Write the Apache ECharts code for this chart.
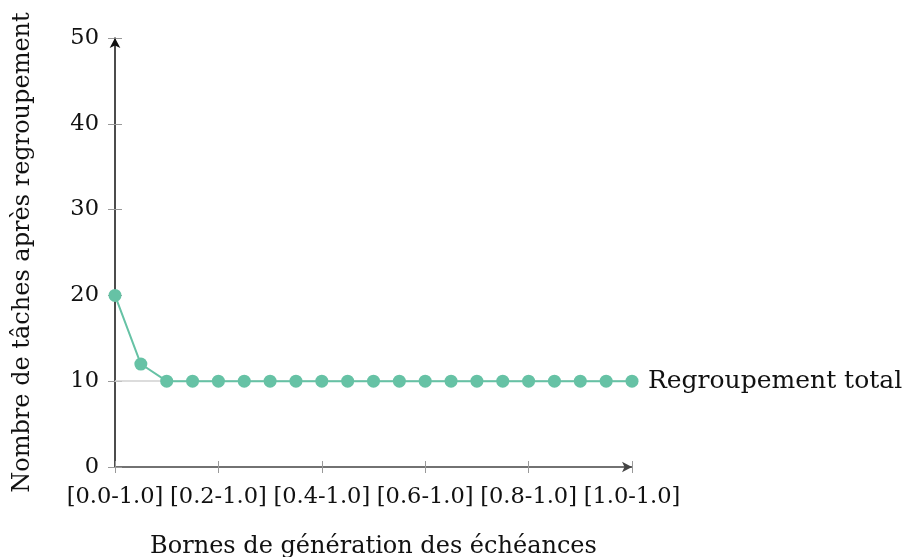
<!DOCTYPE html>
<html>
<head>
<meta charset="utf-8">
<script src="https://cdn.jsdelivr.net/npm/echarts@6/dist/echarts.min.js"></script>
<style>html,body{margin:0;padding:0;background:#fff;overflow:hidden}#c{width:904px;height:557px}</style>
</head>
<body>
<div id="c"></div>
<script>
const categories = ["[0.0-1.0]","[0.05-1.0]","[0.1-1.0]","[0.15-1.0]","[0.2-1.0]","[0.25-1.0]","[0.3-1.0]","[0.35-1.0]","[0.4-1.0]","[0.45-1.0]","[0.5-1.0]","[0.55-1.0]","[0.6-1.0]","[0.65-1.0]","[0.7-1.0]","[0.75-1.0]","[0.8-1.0]","[0.85-1.0]","[0.9-1.0]","[0.95-1.0]","[1.0-1.0]"];
const regroupementTotal = [20,12,10,10,10,10,10,10,10,10,10,10,10,10,10,10,10,10,10,10,10];
const yTicks = [0,10,20,30,40,50];
const refLine = 10;

const FONT = 'DejaVu Serif';
const chart = echarts.init(document.getElementById('c'), null, {width: 904, height: 557});
const baseX = {
  type: 'category', data: categories, boundaryGap: false
};
chart.setOption({
  animation: false,
  grid: {left: 115, width: 517, top: 38, height: 429, containLabel: false, outerBoundsMode: 'none'},
  xAxis: [
    Object.assign({}, baseX, {
      name: 'Bornes de génération des échéances',
      nameLocation: 'middle', nameGap: 68,
      nameTextStyle: {fontFamily: FONT, fontSize: 24, color: '#111'},
      axisLine: {show: true, lineStyle: {color: '#444', width: 1.5}, symbol: ['none','arrow'], symbolSize: [8, 10]},
      axisTick: {show: true, interval: 3, length: 6, lineStyle: {color: '#999'}},
      axisLabel: {interval: 3, fontFamily: FONT, fontSize: 22.5, color: '#111', margin: 19},
      splitLine: {show: false}
    }),
    Object.assign({}, baseX, {
      position: 'bottom',
      axisLine: {show: false},
      axisTick: {show: true, inside: true, interval: 3, length: 6, lineStyle: {color: '#999'}},
      axisLabel: {show: false},
      splitLine: {show: false}
    })
  ],
  yAxis: [
    {
      type: 'value', min: yTicks[0], max: yTicks[yTicks.length-1], interval: 10,
      name: 'Nombre de tâches après regroupement',
      nameLocation: 'middle', nameGap: 80,
      nameTextStyle: {fontFamily: FONT, fontSize: 24, color: '#111'},
      axisLine: {show: true, lineStyle: {color: '#111', width: 1.5}, symbol: ['none','arrow'], symbolSize: [8, 10]},
      axisTick: {show: true, length: 7, lineStyle: {color: '#999'}},
      axisLabel: {fontFamily: FONT, fontSize: 22.5, color: '#111', margin: 16},
      splitLine: {show: false}
    },
    {
      type: 'value', min: yTicks[0], max: yTicks[yTicks.length-1], interval: 10,
      position: 'left',
      axisLine: {show: false},
      axisTick: {show: true, inside: true, length: 7, lineStyle: {color: '#999'}},
      axisLabel: {show: false},
      splitLine: {show: false}
    }
  ],
  series: [{
    name: 'Regroupement total',
    type: 'line',
    data: regroupementTotal,
    symbol: 'circle', symbolSize: 13,
    itemStyle: {color: '#66c2a5'},
    lineStyle: {color: '#66c2a5', width: 2},
    endLabel: {show: true, formatter: '{a}', fontFamily: FONT, fontSize: 25, color: '#111', distance: 16},
    markLine: {
      silent: true, symbol: ['none','none'], z: 1,
      label: {show: false},
      lineStyle: {color: '#d0d0d0', type: 'solid', width: 1.5},
      data: [{yAxis: refLine}]
    },
    z: 3
  }]
});
</script>
</body>
</html>
